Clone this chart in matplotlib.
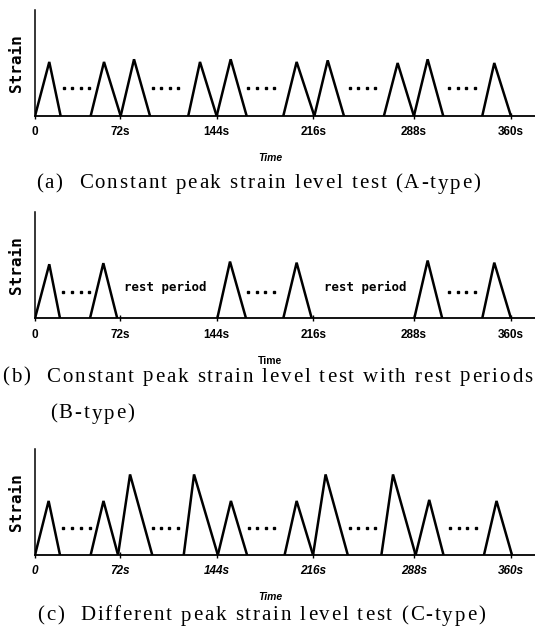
import numpy as np
import matplotlib
matplotlib.use('Agg')
import matplotlib.pyplot as plt
from matplotlib import font_manager
from matplotlib.ft2font import FT2Font

# time axis (s) - tick positions as drawn in the schematic
tick_pos = [0, 64.5, 137.5, 210.5, 286.7, 360]
tick_labels = ['0', '72s', '144s', '216s', '288s', '360s']

# (a) constant peak strain
a_start = [0, 42.1, 64.8, 115.9, 137.4, 187.8, 211.3, 263.9, 286.6, 338.3]
a_peak_t = [10.8, 52.2, 74.9, 124.8, 148.0, 197.9, 221.4, 274.3, 297.0, 347.4]
a_end = [19.4, 64.8, 87.0, 137.4, 160.1, 211.3, 233.7, 286.6, 308.8, 360.0]
a_peak = [0.51, 0.51, 0.535, 0.51, 0.535, 0.51, 0.525, 0.50, 0.535, 0.50]
a_dots = [(21.9, 41.1), (89.0, 108.4), (161.3, 181.0), (238.2, 257.1), (313.3, 332.8)]

# (b) constant peak strain with rest periods
b_start = [0, 41.6, 137.9, 187.8, 286.9, 338.3]
b_peak_t = [10.8, 51.7, 147.5, 197.9, 297.0, 347.4]
b_end = [18.9, 62.2, 159.6, 209.3, 308.0, 360.0]
b_peak = [0.51, 0.52, 0.535, 0.525, 0.545, 0.525]
b_dots = [(21.4, 41.1), (161.4, 180.5), (313.3, 332.8)]
b_rest = [98.8, 250.0]

# (c) different peak strain
c_start = [0, 42.1, 62.8, 112.5, 138.3, 188.8, 210.3, 262.0, 287.9, 339.6]
c_peak_t = [10.3, 51.8, 71.9, 120.3, 148.2, 197.9, 219.8, 270.8, 298.2, 349.1]
c_end = [18.9, 62.8, 88.7, 138.3, 160.4, 210.3, 236.6, 287.9, 309.0, 360.8]
c_peak = [0.51, 0.51, 0.76, 0.76, 0.51, 0.51, 0.76, 0.76, 0.52, 0.51]
c_dots = [(21.5, 41.4), (89.2, 107.8), (161.6, 181.0), (238.0, 257.4), (314.2, 333.6)]

W, H = 535, 633
sans = 'Liberation Sans'


def make_panel(fig, base_px, start, peak_t, end, peak, dots, dot_y, italic_ticks, italic_time):
    ax = fig.add_axes([35 / W, (H - base_px) / H, 500 / W, 106 / H])
    for s, t, e, h in zip(start, peak_t, end, peak):
        ax.plot([s, t, e], [0, h, 0], color='black', lw=1.8, solid_joinstyle='miter')
    for d0, d1 in dots:
        ax.plot(np.linspace(d0, d1, 4), [dot_y] * 4, ls='none', marker='s',
                ms=1.5, color='black')
    ax.set_xlim(0, 378.2)
    ax.set_ylim(0, 1)
    for sp in ['top', 'right']:
        ax.spines[sp].set_visible(False)
    ax.spines['left'].set_linewidth(1.1)
    ax.spines['bottom'].set_linewidth(1.3)
    ax.set_yticks([])
    ax.set_xticks(tick_pos)
    ax.set_xticklabels(tick_labels, fontfamily=sans, fontweight='bold', fontsize=8.5,
                       fontstyle='italic' if italic_ticks else 'normal')
    ax.tick_params(axis='x', direction='inout', length=5, width=1.0, pad=5)
    ax.text(-0.036, 0.5, 'Strain', transform=ax.transAxes, rotation=90, ha='center',
            va='center', fontfamily='DejaVu Sans Mono', fontweight='bold', fontsize=11.5)
    ax.text(0.47, -0.40, 'Time', transform=ax.transAxes, ha='center', va='center',
            fontfamily=sans, fontweight='bold', fontsize=7.5,
            fontstyle='italic' if italic_time else 'normal')
    return ax


def spaced_text(fig, x_px, y_px, s, size=15, track=1.9, ha='left'):
    # caption set with loose letter spacing, as in the printed figure
    fp = font_manager.FontProperties(family='Liberation Serif', size=size)
    f = FT2Font(font_manager.findfont(fp))
    f.set_size(size, 100)
    adv = [f.load_char(ord(ch)).linearHoriAdvance / 65536 for ch in s]
    total = sum(adv) + track * (len(s) - 1)
    x = x_px - total / 2 if ha == 'center' else x_px
    for ch, a in zip(s, adv):
        if ch != ' ':
            fig.text(x / W, 1 - y_px / H, ch, fontproperties=fp, ha='left', va='center')
        x += a + track


fig = plt.figure(figsize=(W / 100, H / 100), dpi=100)

make_panel(fig, 116, a_start, a_peak_t, a_end, a_peak, a_dots, 0.267, False, True)
axb = make_panel(fig, 318.3, b_start, b_peak_t, b_end, b_peak, b_dots, 0.25, False, False)
for x in b_rest:
    axb.text(x, 0.29, 'rest period', ha='center', va='center',
             fontfamily='DejaVu Sans Mono', fontweight='bold', fontsize=9)
make_panel(fig, 555, c_start, c_peak_t, c_end, c_peak, c_dots, 0.255, True, True)

spaced_text(fig, 258, 184, '(a)  Constant peak strain level test (A-type)', ha='center')
spaced_text(fig, 2, 377, '(b)  Constant peak strain level test with rest periods')
spaced_text(fig, 50, 414, '(B-type)')
spaced_text(fig, 261, 616, '(c)  Different peak strain level test (C-type)', ha='center')

fig.savefig('out.png', dpi=100)
